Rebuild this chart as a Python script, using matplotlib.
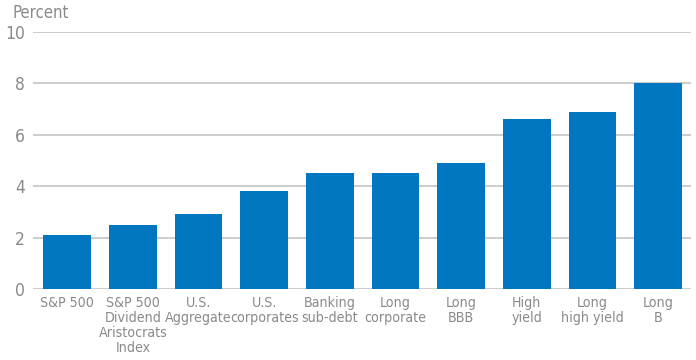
import matplotlib
matplotlib.use("Agg")
import matplotlib.pyplot as plt
from matplotlib import font_manager

categories = ["S&P 500", "S&P 500\nDividend\nAristocrats\nIndex", "U.S.\nAggregate",
              "U.S.\ncorporates", "Banking\nsub-debt", "Long\ncorporate", "Long\nBBB",
              "High\nyield", "Long\nhigh yield", "Long\nB"]
values = [2.1, 2.5, 2.9, 3.8, 4.5, 4.5, 4.9, 6.6, 6.9, 8.0]
yticks = [0, 2, 4, 6, 8, 10]

names = {f.name for f in font_manager.fontManager.ttflist}
fam = [n for n in ["Liberation Sans Narrow", "DejaVu Sans"] if n in names]
plt.rcParams['font.family'] = fam
stretch = 'condensed' if fam[0] == 'DejaVu Sans' else 'normal'
plt.rcParams['font.stretch'] = stretch

gray = "#8a8a8a"
fig = plt.figure(figsize=(6.96, 3.6), dpi=100)
ax = fig.add_axes([33/696, 71/360, 658/696, 257/360])
x = list(range(len(categories)))
ax.bar(x, values, width=0.73, color="#0077C0", zorder=3)
ax.set_xlim(-0.52, 9.5)
ax.set_ylim(0, 10)
ax.set_yticks(yticks)
ax.set_yticklabels([str(t) for t in yticks], fontsize=12.5, color=gray)
ax.set_xticks(x)
ax.set_xticklabels(categories, fontsize=10.2, color=gray, linespacing=1.1)
ax.tick_params(axis='both', length=0)
ax.tick_params(axis='y', pad=6)
ax.tick_params(axis='x', pad=5)
ax.grid(axis='y', color="#c8c8c8", linewidth=1.3, zorder=0)
for s in ax.spines.values():
    s.set_visible(False)
fig.text(12/696, 1 - 13/360, "Percent", fontsize=12, color=gray, va='center', ha='left')
fig.savefig("out.png", dpi=100)
